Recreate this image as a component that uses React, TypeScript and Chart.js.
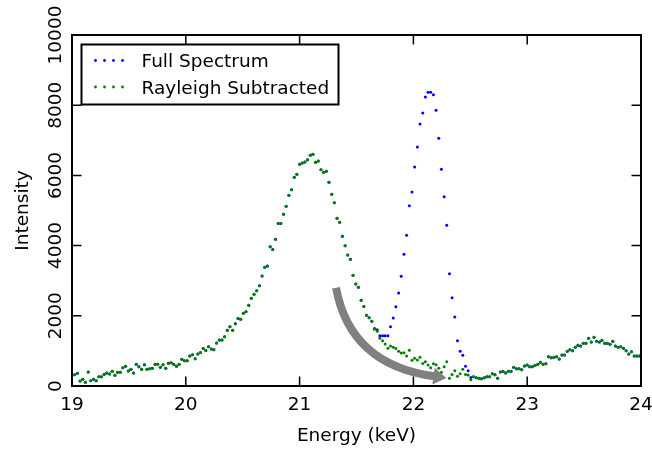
import React, { useEffect, useRef } from 'react';
import { Chart, registerables } from 'chart.js';

Chart.register(...registerables);

// Channel energies (keV)
const energies = [
  19.024, 19.048, 19.071, 19.095, 19.118, 19.142, 19.165, 19.189, 19.212, 19.236,
  19.259, 19.283, 19.306, 19.330, 19.353, 19.377, 19.400, 19.424, 19.447, 19.471,
  19.494, 19.518, 19.541, 19.565, 19.588, 19.612, 19.636, 19.659, 19.683, 19.706,
  19.730, 19.753, 19.777, 19.800, 19.824, 19.847, 19.871, 19.894, 19.918, 19.941,
  19.965, 19.988, 20.012, 20.035, 20.059, 20.082, 20.106, 20.129, 20.153, 20.176,
  20.200, 20.224, 20.247, 20.271, 20.294, 20.318, 20.341, 20.365, 20.388, 20.412,
  20.435, 20.459, 20.482, 20.506, 20.529, 20.553, 20.576, 20.600, 20.623, 20.647,
  20.670, 20.694, 20.717, 20.741, 20.764, 20.788, 20.812, 20.835, 20.859, 20.882,
  20.906, 20.929, 20.953, 20.976, 21.000, 21.023, 21.047, 21.070, 21.094, 21.117,
  21.141, 21.164, 21.188, 21.211, 21.235, 21.258, 21.282, 21.305, 21.329, 21.352,
  21.376, 21.400, 21.423, 21.447, 21.470, 21.494, 21.517, 21.541, 21.564, 21.588,
  21.611, 21.635, 21.658, 21.682, 21.705, 21.729, 21.752, 21.776, 21.799, 21.823,
  21.846, 21.870, 21.893, 21.917, 21.940, 21.964, 21.988, 22.011, 22.035, 22.058,
  22.082, 22.105, 22.129, 22.152, 22.176, 22.199, 22.223, 22.246, 22.270, 22.293,
  22.317, 22.340, 22.364, 22.387, 22.411, 22.434, 22.458, 22.481, 22.505, 22.528,
  22.552, 22.576, 22.599, 22.623, 22.646, 22.670, 22.693, 22.717, 22.740, 22.764,
  22.787, 22.811, 22.834, 22.858, 22.881, 22.905, 22.928, 22.952, 22.975, 22.999,
  23.022, 23.046, 23.069, 23.093, 23.116, 23.140, 23.164, 23.187, 23.211, 23.234,
  23.258, 23.281, 23.305, 23.328, 23.352, 23.375, 23.399, 23.422, 23.446, 23.469,
  23.493, 23.516, 23.540, 23.563, 23.587, 23.610, 23.634, 23.657, 23.681, 23.704,
  23.728, 23.752, 23.775, 23.799, 23.822, 23.846, 23.869, 23.893, 23.916, 23.940,
  23.963, 23.987,
];

// Full spectrum intensity per channel
const fullSpectrum = [
  320, 360, 145, 195, 104, 399, 152, 190, 152, 266,
  266, 332, 370, 342, 418, 304, 389, 389, 522, 560,
  427, 475, 370, 617, 551, 475, 608, 475, 494, 503,
  617, 617, 532, 608, 503, 646, 665, 617, 560, 617,
  760, 722, 722, 855, 893, 779, 912, 955, 1068, 1010,
  1120, 1054, 1035, 1225, 1311, 1311, 1405, 1586, 1685, 1586,
  1770, 1922, 1899, 2075, 2112, 2303, 2498, 2612, 2716, 2858,
  3134, 3381, 3420, 3969, 3890, 4179, 4630, 4630, 4891, 5119,
  5437, 5590, 5946, 6031, 6320, 6350, 6382, 6448, 6572, 6601,
  6378, 6410, 6163, 6088, 6120, 5803, 5461, 5218, 4778, 4664,
  4265, 3997, 3732, 3609, 3154, 2906, 2812, 2442, 2265, 2018,
  1946, 1843, 1640, 1600, 1430, 1430, 1430, 1430, 1690, 1937,
  2259, 2650, 3125, 3752, 4293, 5137, 5527, 6239, 6809, 7464,
  7778, 8234, 8367, 8367, 8299, 7855, 7057, 6174, 5393, 4578,
  3199, 2516, 1966, 1291, 989, 875, 561, 436, 245, 260,
  237, 218, 209, 237, 266, 266, 351, 323, 218, 399,
  418, 370, 418, 418, 532, 494, 494, 465, 570, 598,
  551, 551, 589, 617, 674, 617, 636, 836, 807, 817,
  836, 769, 883, 883, 988, 1035, 1007, 1102, 1159, 1140,
  1216, 1216, 1358, 1254, 1386, 1273, 1254, 1301, 1216, 1216,
  1187, 1273, 1140, 1102, 1121, 1073, 1007, 912, 978, 855,
  855, 855,
];

// Rayleigh-subtracted intensity per channel
const rayleighSubtracted = [
  320, 360, 145, 195, 104, 399, 152, 190, 152, 266,
  266, 332, 370, 342, 418, 304, 389, 389, 522, 560,
  427, 475, 370, 617, 551, 475, 608, 475, 494, 503,
  617, 617, 532, 608, 503, 646, 665, 617, 560, 617,
  760, 722, 722, 855, 893, 779, 912, 955, 1068, 1010,
  1120, 1054, 1035, 1225, 1311, 1311, 1405, 1586, 1685, 1586,
  1770, 1922, 1899, 2075, 2112, 2303, 2498, 2612, 2716, 2858,
  3134, 3381, 3420, 3969, 3890, 4179, 4630, 4630, 4891, 5119,
  5437, 5590, 5946, 6031, 6320, 6350, 6382, 6448, 6572, 6601,
  6378, 6410, 6163, 6088, 6120, 5803, 5461, 5218, 4778, 4664,
  4265, 3997, 3732, 3609, 3154, 2906, 2812, 2442, 2265, 2018,
  1946, 1843, 1615, 1560, 1358, 1291, 1200, 1073, 1140, 1102,
  1068, 992, 940, 949, 855, 1016, 731, 793, 741, 817,
  641, 693, 598, 522, 636, 607, 505, 394, 550, 688,
  218, 328, 437, 275, 346, 480, 328, 313, 180, 260,
  237, 218, 209, 237, 266, 266, 351, 323, 218, 399,
  418, 370, 418, 418, 532, 494, 494, 465, 570, 598,
  551, 551, 589, 617, 674, 617, 636, 836, 807, 817,
  836, 769, 883, 883, 988, 1035, 1007, 1102, 1159, 1140,
  1216, 1216, 1358, 1254, 1386, 1273, 1254, 1301, 1216, 1216,
  1187, 1273, 1140, 1102, 1121, 1073, 1007, 912, 978, 855,
  855, 855,
];

const xTicks = [19, 20, 21, 22, 23, 24];
const yTicks = [0, 2000, 4000, 6000, 8000, 10000];
const seriesLabels = ['Full Spectrum', 'Rayleigh Subtracted'];
const seriesColors = ['#0000ff', '#008000'];
const xTitle = 'Energy (keV)';
const yTitle = 'Intensity';
// Annotation arrow (data coordinates): tail, bend control, tip
const arrowTail = [21.32, 2800];
const arrowBend = [21.445, 600];
const arrowTip = [22.29, 230];

const FONT = '18.5px "DejaVu Sans", sans-serif';

const decorations = {
  id: 'decorations',
  afterDatasetsDraw(chart: any) {
    const { ctx, chartArea: a } = chart;
    const xs = chart.scales.x;
    const ys = chart.scales.y;
    ctx.save();

    // curved arrow
    const p0 = { x: xs.getPixelForValue(arrowTail[0]), y: ys.getPixelForValue(arrowTail[1]) };
    const pc = { x: xs.getPixelForValue(arrowBend[0]), y: ys.getPixelForValue(arrowBend[1]) };
    const pt = { x: xs.getPixelForValue(arrowTip[0]), y: ys.getPixelForValue(arrowTip[1]) };
    let dx = pt.x - pc.x;
    let dy = pt.y - pc.y;
    const dl = Math.hypot(dx, dy);
    dx /= dl; dy /= dl;
    const headL = 13;
    const headW = 17;
    const base = { x: pt.x - headL * dx, y: pt.y - headL * dy };
    ctx.strokeStyle = '#808080';
    ctx.fillStyle = '#808080';
    ctx.lineWidth = 8;
    ctx.lineCap = 'butt';
    ctx.beginPath();
    ctx.moveTo(p0.x, p0.y);
    ctx.quadraticCurveTo(pc.x, pc.y, base.x + dx, base.y + dy);
    ctx.stroke();
    ctx.beginPath();
    ctx.moveTo(pt.x, pt.y);
    ctx.lineTo(base.x - dy * headW / 2, base.y + dx * headW / 2);
    ctx.lineTo(base.x + dy * headW / 2, base.y - dx * headW / 2);
    ctx.closePath();
    ctx.fill();

    // frame
    ctx.strokeStyle = '#000';
    ctx.lineWidth = 2;
    ctx.strokeRect(a.left, a.top, a.right - a.left, a.bottom - a.top);

    // ticks (inward, all four sides)
    const TL = 9.5;
    ctx.lineWidth = 1.5;
    ctx.beginPath();
    for (const v of xTicks) {
      const px = xs.getPixelForValue(v);
      ctx.moveTo(px, a.bottom); ctx.lineTo(px, a.bottom - TL);
      ctx.moveTo(px, a.top); ctx.lineTo(px, a.top + TL);
    }
    for (const v of yTicks) {
      const py = ys.getPixelForValue(v);
      ctx.moveTo(a.left, py); ctx.lineTo(a.left + TL, py);
      ctx.moveTo(a.right, py); ctx.lineTo(a.right - TL, py);
    }
    ctx.stroke();

    // tick labels
    ctx.fillStyle = '#000';
    ctx.font = FONT;
    ctx.textAlign = 'center';
    ctx.textBaseline = 'alphabetic';
    for (const v of xTicks) {
      ctx.fillText(String(v), xs.getPixelForValue(v), a.bottom + 24);
    }
    for (const v of yTicks) {
      ctx.save();
      ctx.translate(a.left - 11, ys.getPixelForValue(v));
      ctx.rotate(-Math.PI / 2);
      ctx.fillText(String(v), 0, 0);
      ctx.restore();
    }

    // axis titles
    ctx.fillText(xTitle, (a.left + a.right) / 2, a.bottom + 55);
    ctx.save();
    ctx.translate(27.5, (a.top + a.bottom) / 2);
    ctx.rotate(-Math.PI / 2);
    ctx.fillText(yTitle, 0, 0);
    ctx.restore();

    // legend
    const lx = a.left + 9.5;
    const ly = a.top + 9.5;
    ctx.fillStyle = '#fff';
    ctx.fillRect(lx, ly, 257, 60);
    ctx.strokeStyle = '#000';
    ctx.lineWidth = 2;
    ctx.strokeRect(lx, ly, 257, 60);
    chart.data.datasets.forEach((ds: any, i: number) => {
      const cy = ly + 16 + i * 26.5;
      ctx.fillStyle = ds.backgroundColor;
      for (let k = 0; k < 4; k++) {
        ctx.beginPath();
        ctx.arc(lx + 14 + k * 9, cy, 1.4, 0, Math.PI * 2);
        ctx.fill();
      }
      ctx.fillStyle = '#000';
      ctx.textAlign = 'left';
      ctx.fillText(ds.label, lx + 60, cy + 6.7);
    });

    ctx.restore();
  },
};

export default function App() {
  const canvasRef = useRef<HTMLCanvasElement | null>(null);

  useEffect(() => {
    if (!canvasRef.current) return;
    const mk = (vals: number[]) => energies.map((e, i) => ({ x: e, y: vals[i] }));
    const chart = new Chart(canvasRef.current, {
      type: 'scatter',
      data: {
        datasets: [
          {
            label: seriesLabels[0],
            data: mk(fullSpectrum),
            backgroundColor: seriesColors[0],
            borderColor: seriesColors[0],
            pointRadius: 1.5,
            pointBorderWidth: 0,
            order: 1,
          },
          {
            label: seriesLabels[1],
            data: mk(rayleighSubtracted),
            backgroundColor: seriesColors[1],
            borderColor: seriesColors[1],
            pointRadius: 1.5,
            pointBorderWidth: 0,
            order: 0,
          },
        ],
      },
      options: {
        animation: false,
        responsive: true,
        maintainAspectRatio: false,
        events: [],
        layout: { padding: { left: 72, right: 11, top: 35, bottom: 63 } },
        scales: {
          x: { type: 'linear', min: 19, max: 24, display: false },
          y: { type: 'linear', min: 0, max: 10000, display: false },
        },
        plugins: {
          legend: { display: false },
          tooltip: { enabled: false },
        },
      },
      plugins: [decorations],
    });
    return () => chart.destroy();
  }, []);

  return (
    <div style={{ position: 'fixed', left: 0, top: 0, width: 652, height: 449, background: '#fff' }}>
      <canvas ref={canvasRef} />
    </div>
  );
}
